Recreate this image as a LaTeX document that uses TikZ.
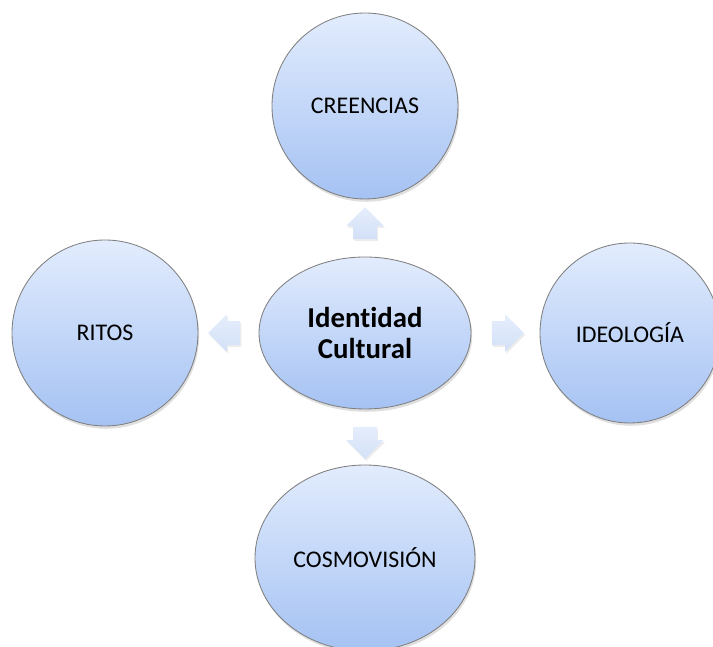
\documentclass[tikz,border=0pt]{standalone}
\usepackage{fontspec}
\setmainfont{Carlito}[RawFeature={-liga;-clig}]
\usetikzlibrary{shapes.geometric,shapes.arrows,shadows}
\definecolor{bubbletop}{HTML}{E2ECFD}
\definecolor{bubblebot}{HTML}{A5C2F3}
\definecolor{bubbleline}{HTML}{7F7F7F}
\definecolor{arrowtop}{HTML}{E6EEFC}
\definecolor{arrowbot}{HTML}{D2E0F7}

\begin{document}
\begin{tikzpicture}[node distance=2cm,
    bubble/.style={draw=bubbleline, line width=0.6pt, top color=bubbletop, bottom color=bubblebot, inner sep=0pt,
      drop shadow={opacity=0.25, shadow xshift=0.03cm, shadow yshift=-0.07cm},
      font=\fontsize{17}{20}\selectfont},
    blockarrow/.style={single arrow, draw=none, top color=arrowtop, bottom color=arrowbot,
      inner xsep=0pt, inner ysep=0.2875cm,
      minimum height=0.8cm, single arrow head extend=0.175cm,
      drop shadow={opacity=0.15, shadow xshift=0.03cm, shadow yshift=-0.05cm}},
    vblockarrow/.style={blockarrow, inner xsep=0.2875cm, inner ysep=0pt}]
  \clip (-9.125,-7.85) rectangle (8.7,8.325);
  % Nodes
  \node (identidad) [bubble, ellipse, minimum width=5.3cm, minimum height=3.8cm, align=center,
    font=\fontsize{20.5}{22}\selectfont\bfseries] {Identidad\\Cultural};
  \node (creencias) [bubble, circle, minimum size=4.65cm, above of=identidad, node distance=5.675cm] {CREENCIAS};
  \node (ritos) [bubble, circle, minimum size=4.65cm, left of=identidad, node distance=6.5cm] {RITOS};
  \node (ideologia) [bubble, circle, minimum size=4.5cm, right of=identidad, node distance=6.625cm] {IDEOLOGÍA};
  \node (cosmovision) [bubble, ellipse, minimum width=5.5cm, minimum height=4.65cm, below of=identidad, node distance=5.625cm] {COSMOVISIÓN};

  % Arrows
  \node (toup) [vblockarrow, shape border rotate=90, above of=identidad, node distance=2.6cm] {};
  \node (toleft) [blockarrow, shape border rotate=180, left of=identidad, node distance=3.375cm] {};
  \node (toright) [blockarrow, right of=identidad, node distance=3.425cm] {};
  \node (todown) [vblockarrow, shape border rotate=270, below of=identidad, node distance=2.6cm] {};
\end{tikzpicture}
\end{document}
